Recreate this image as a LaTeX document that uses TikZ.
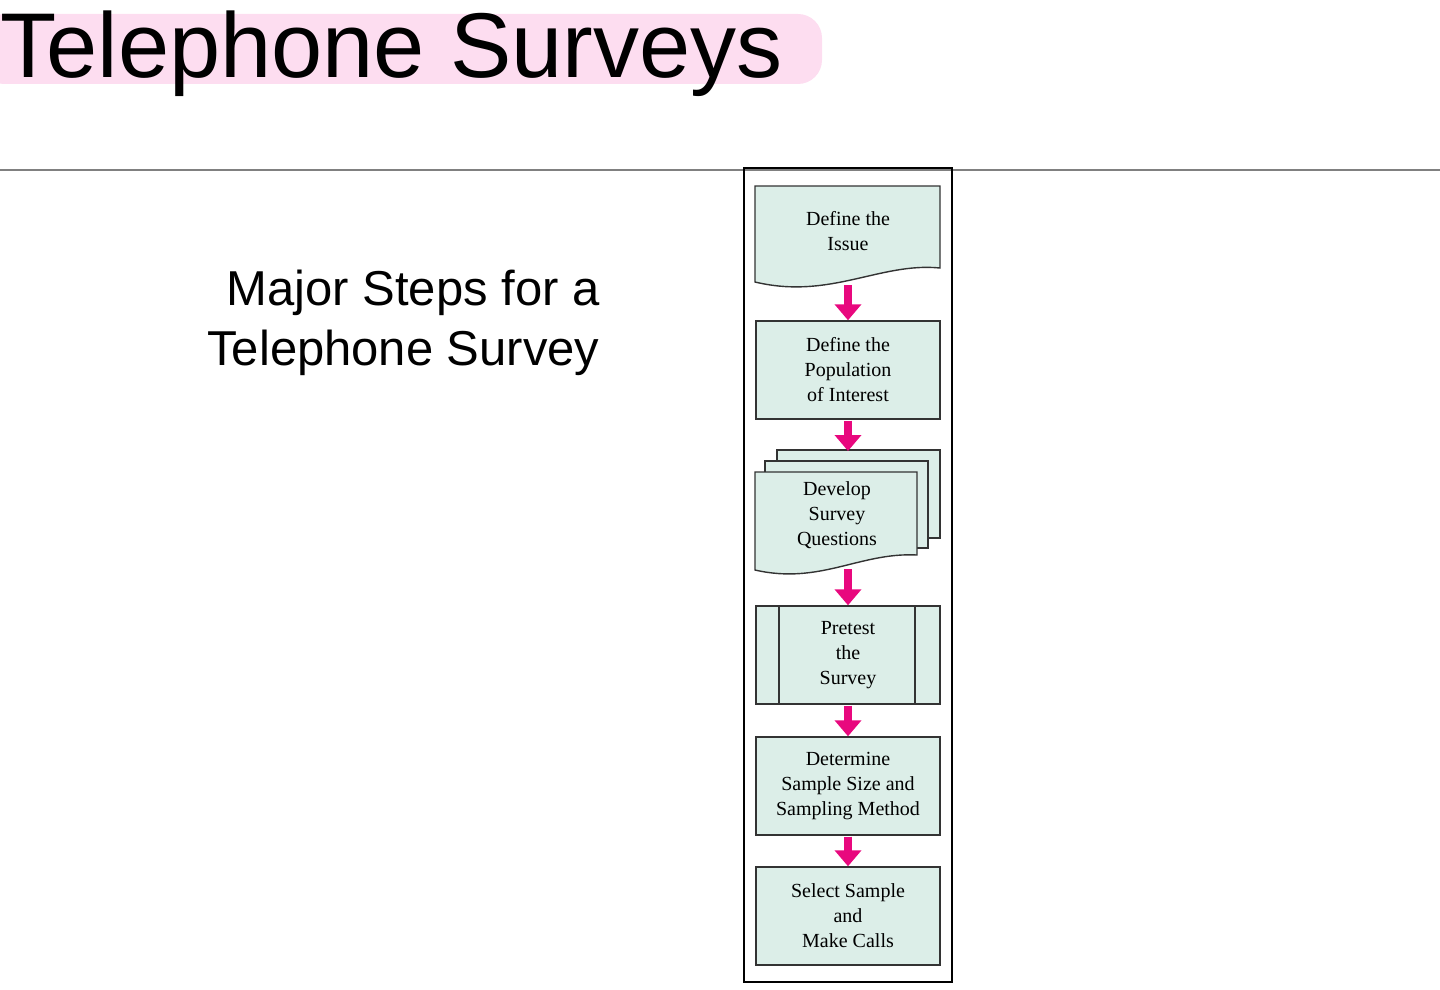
\documentclass[tikz,border=0pt]{standalone}
\usepackage{fontspec}
\setmainfont{Liberation Serif}
\newfontfamily\arialfont{Liberation Sans}
\usetikzlibrary{arrows.meta,positioning}

\definecolor{stepfill}{HTML}{DCEEE8}
\definecolor{titlepink}{HTML}{FDDDF0}
\definecolor{arrowpink}{HTML}{E8087E}

\tikzset{
  stepbox/.style={draw=black!80, fill=stepfill, line width=0.7pt, minimum width=92pt, minimum height=49pt,
    align=center, font=\fontsize{10}{12.5}\selectfont, inner sep=0pt},
  sheet/.style={draw=black!80, fill=stepfill, line width=0.7pt},
  flow/.style={arrowpink, line width=4pt, -{Triangle[width=13pt,length=8pt]}, shorten <=0.5pt}
}

\begin{document}
\begin{tikzpicture}[x=0.5pt, y=-0.5pt]

%% page
\useasboundingbox (0,0) rectangle (1440,990);

%% title
\fill[titlepink, rounded corners=12pt] (-20,14) rectangle (822,84);
\node[anchor=base west, inner sep=0pt, font=\arialfont\fontsize{46}{50}\selectfont] (title) at (0,78) {Telephone Surveys};
\draw[gray, line width=0.6pt] (0,170) -- (1440,170);

\node[anchor=north east, align=right, inner sep=0pt, font=\arialfont\fontsize{24.5}{30}\selectfont] (caption) at (600,270)
  {Major Steps for a\\Telephone Survey};

%% frame
\draw[line width=0.8pt] (744,168) rectangle (952,982);

%% step 1, wavy bottom
\draw[sheet] (755,186) -- (940,186) -- (940,268) .. controls (880,262) and (830,300) .. (755,282) -- cycle;
\node[align=center, font=\fontsize{10}{12.5}\selectfont] (issue) at (848,231) {Define the\\Issue};
\coordinate (issueB) at (848,284);

%% step 2
\node[stepbox] (pop) at (848,370) {Define the\\Population\\of Interest};

%% step 3, stacked sheets
\draw[sheet] (777,450) rectangle (940,538);
\draw[sheet] (765,461) rectangle (928,548);
\draw[sheet] (755,472) -- (917,472) -- (917,555) .. controls (860,552) and (820,585) .. (755,570) -- cycle;
\node[align=center, font=\fontsize{10}{12.5}\selectfont] (quest) at (837,515) {Develop\\Survey\\Questions};
\coordinate (questT) at (848,451);
\coordinate (questB) at (848,568);

%% step 4, predefined process
\node[stepbox] (pretest) at (848,655) {Pretest\\the\\Survey};
\draw[line width=0.7pt, black!80] (779,606) -- (779,705) (915,606) -- (915,705);

%% steps 5 and 6
\node[stepbox] (size) at (848,786) {Determine\\Sample Size and\\Sampling Method};
\node[stepbox] (calls) at (848,916) {Select Sample\\and\\Make Calls};

%% arrows
\draw[flow] (issueB) -- (pop.north);
\draw[flow] (pop.south) -- (questT);
\draw[flow] (questB) -- (pretest.north);
\draw[flow] (pretest.south) -- (size.north);
\draw[flow] (size.south) -- (calls.north);

\end{tikzpicture}
\end{document}
